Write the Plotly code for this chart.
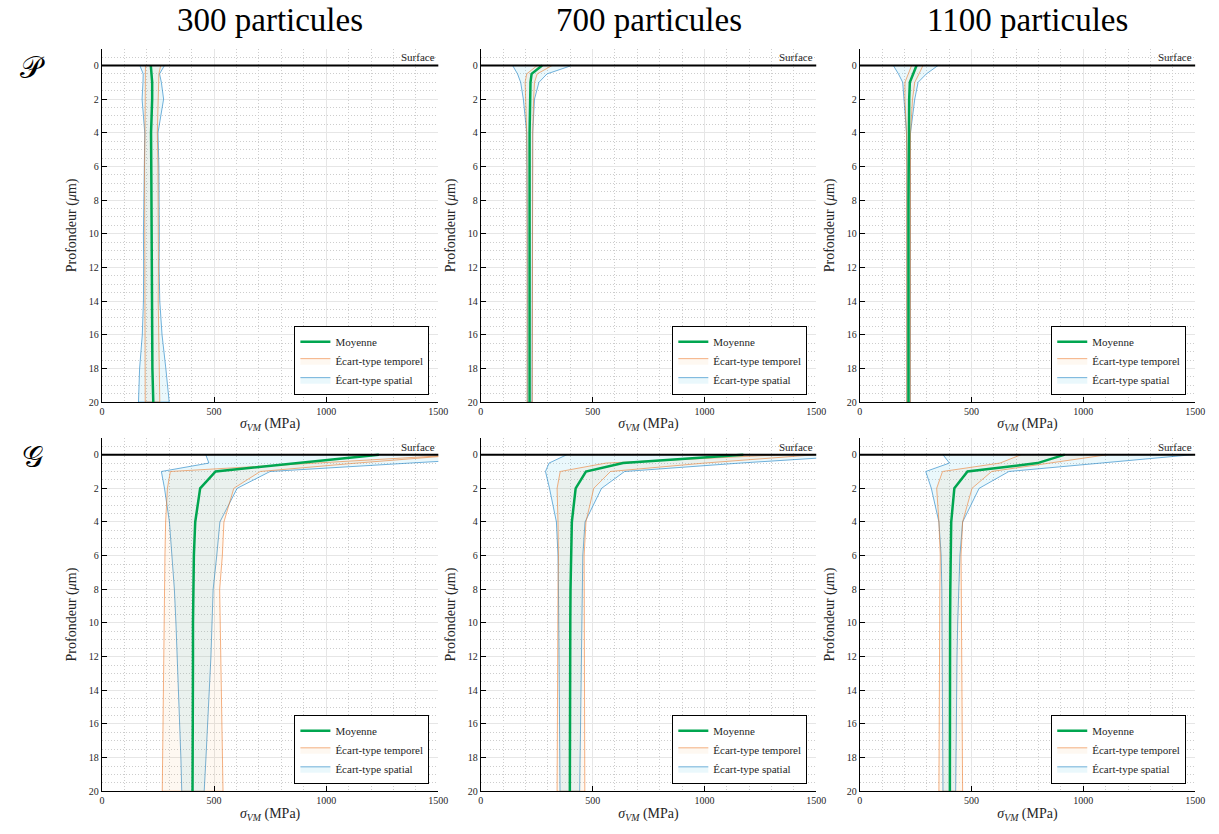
import plotly.graph_objects as go

# ---------------- data ----------------
depth = [0, 0.5, 1, 2, 4, 6, 8, 10, 12, 14, 16, 18, 20]

col_titles = ["300 particules", "700 particules", "1100 particules"]
row_labels = ["𝒫", "𝒢"]
x_ticks = [0, 500, 1000, 1500]
y_ticks = [0, 2, 4, 6, 8, 10, 12, 14, 16, 18, 20]

# P - 300
P300_mean = [218, 222, 224, 224, 219, 220, 221, 222, 222, 221, 222, 225, 229]
P300_tlo = [194, 194, 194, 194, 192, 190, 190, 190, 190, 190, 190, 191, 193]
P300_thi = [262, 254, 252, 250, 247, 250, 251, 252, 252, 251, 252, 255, 258]
P300_slo = [169, 184, 183, 179, 191, 188, 186, 185, 186, 185, 180, 168, 163]
P300_shi = [279, 257, 265, 275, 250, 254, 256, 256, 255, 258, 268, 285, 300]
# P - 700
P700_mean = [274, 227, 222, 220, 218, 218, 218, 218, 218, 218, 218, 218, 218]
P700_tlo = [252, 205, 198, 201, 205, 206, 207, 207, 207, 207, 207, 207, 207]
P700_thi = [319, 252, 240, 236, 232, 231, 230, 230, 230, 230, 230, 230, 230]
P700_slo = [142, 164, 178, 190, 205, 207, 208, 208, 208, 208, 208, 208, 208]
P700_shi = [407, 296, 260, 240, 232, 230, 229, 229, 229, 229, 229, 229, 229]
# P - 1100
P1100_mean = [254, 239, 224, 221, 219, 218, 218, 218, 218, 218, 218, 218, 218]
P1100_tlo = [232, 217, 202, 202, 209, 210, 210, 210, 210, 210, 210, 210, 210]
P1100_thi = [283, 265, 246, 236, 227, 226, 226, 226, 226, 226, 226, 226, 226]
P1100_slo = [150, 173, 192, 198, 209, 211, 211, 211, 211, 211, 211, 211, 211]
P1100_shi = [350, 298, 261, 246, 227, 226, 226, 226, 226, 226, 226, 226, 226]
# G - 300
G300_mean = [1235, 865, 507, 438, 416, 410, 407, 406, 406, 405, 405, 405, 404]
G300_tlo = [1600, 938, 305, 292, 284, 281, 279, 277, 275, 273, 271, 270, 269]
G300_thi = [1610, 1137, 706, 588, 544, 537, 525, 527, 530, 533, 536, 538, 540]
G300_slo = [463, 477, 265, 279, 301, 313, 323, 330, 336, 340, 346, 352, 356]
G300_shi = [2030, 1372, 750, 603, 526, 512, 496, 491, 486, 480, 472, 464, 456]
# G - 700
G700_mean = [1174, 636, 470, 424, 407, 403, 401, 400, 399, 399, 398, 398, 398]
G700_tlo = [1350, 560, 355, 341, 345, 347, 345, 344, 343, 342, 342, 341, 341]
G700_thi = [1500, 1000, 580, 505, 470, 462, 462, 463, 463, 464, 464, 465, 465]
G700_slo = [385, 305, 289, 307, 338, 345, 347, 349, 350, 351, 352, 353, 354]
G700_shi = [1750, 1159, 643, 540, 466, 456, 454, 452, 450, 448, 446, 444, 442]
# G - 1100
G1100_mean = [917, 795, 482, 423, 409, 406, 405, 404, 404, 404, 403, 403, 403]
G1100_tlo = [722, 627, 370, 344, 354, 360, 358, 357, 356, 355, 355, 354, 354]
G1100_thi = [1109, 850, 590, 502, 460, 453, 455, 456, 457, 458, 459, 459, 460]
G1100_slo = [372, 401, 295, 320, 354, 364, 367, 368, 369, 370, 370, 371, 372]
G1100_shi = [1490, 1065, 667, 534, 460, 448, 442, 438, 435, 433, 431, 430, 429]

panels = [
    (P300_mean, P300_tlo, P300_thi, P300_slo, P300_shi),
    (P700_mean, P700_tlo, P700_thi, P700_slo, P700_shi),
    (P1100_mean, P1100_tlo, P1100_thi, P1100_slo, P1100_shi),
    (G300_mean, G300_tlo, G300_thi, G300_slo, G300_shi),
    (G700_mean, G700_tlo, G700_thi, G700_slo, G700_shi),
    (G1100_mean, G1100_tlo, G1100_thi, G1100_slo, G1100_shi),
]

# ---------------- layout ----------------
W, H = 1219, 834
FONT = "'Liberation Serif', 'DejaVu Serif', serif"
TXT = "#262626"
col_px = [(100, 440), (483, 822), (866, 1205)]
row_px = [(49, 405), (441, 797)]

fig = go.Figure()
layout = dict(
    width=W, height=H, autosize=False, margin=dict(l=0, r=0, t=0, b=0),
    paper_bgcolor="white", plot_bgcolor="white",
    font=dict(family=FONT, color=TXT),
    annotations=[], shapes=[],
)

for i, (mean, tlo, thi, slo, shi) in enumerate(panels):
    r, c = divmod(i, 3)
    s = "" if i == 0 else str(i + 1)
    xa, ya = "x" + s, "y" + s
    lg = "legend" if i == 0 else "legend" + str(i + 1)
    x0, x1 = col_px[c]
    y0, y1 = row_px[r]

    fig.add_trace(go.Scatter(
        x=slo + shi[::-1], y=depth + depth[::-1], mode="lines", fill="toself",
        fillcolor="rgba(90,200,235,0.13)", line=dict(color="rgba(0,114,189,0.55)", width=1),
        name="Écart-type spatial", xaxis=xa, yaxis=ya, legend=lg, legendrank=3,
        hoverinfo="skip"))
    fig.add_trace(go.Scatter(
        x=tlo + thi[::-1], y=depth + depth[::-1], mode="lines", fill="toself",
        fillcolor="rgba(235,150,60,0.07)", line=dict(color="rgba(237,125,49,0.6)", width=1),
        name="Écart-type temporel", xaxis=xa, yaxis=ya, legend=lg, legendrank=2,
        hoverinfo="skip"))
    fig.add_trace(go.Scatter(
        x=mean, y=depth, mode="lines", line=dict(color="rgb(0,166,80)", width=2.5),
        name="Moyenne", xaxis=xa, yaxis=ya, legend=lg, legendrank=1))

    layout["xaxis" + s] = dict(
        domain=[x0 / W, x1 / W], anchor=ya, range=[0, 1500], tickvals=x_ticks,
        ticks="inside", ticklen=5, tickcolor="black", showline=True, linecolor="black",
        linewidth=1.2, zeroline=False, showgrid=True, gridcolor="#e6e6e6", gridwidth=1,
        minor=dict(dtick=100, showgrid=True, gridcolor="#cdcdcd", griddash="1px,2px", gridwidth=1),
        tickfont=dict(size=10, family=FONT, color=TXT),
        title=dict(text="<i>σ</i><sub><i>VM</i></sub> (MPa)", font=dict(size=14, family=FONT, color=TXT), standoff=2),
    )
    layout["yaxis" + s] = dict(
        domain=[1 - y1 / H, 1 - y0 / H], anchor=xa, range=[20, -1], tickvals=y_ticks,
        ticks="inside", ticklen=5, tickcolor="black", showline=True, linecolor="black",
        linewidth=1.2, zeroline=False, showgrid=True, gridcolor="#e6e6e6", gridwidth=1,
        minor=dict(dtick=0.5, showgrid=True, gridcolor="#cdcdcd", griddash="1px,2px", gridwidth=1),
        tickfont=dict(size=10, family=FONT, color=TXT),
        title=dict(text="Profondeur (<i>μ</i>m)", font=dict(size=14, family=FONT, color=TXT), standoff=8),
    )
    layout[lg] = dict(
        x=(x1 - 9) / W, y=1 - (y1 - 7) / H, xanchor="right", yanchor="bottom",
        bgcolor="white", bordercolor="black", borderwidth=1,
        font=dict(size=11, family=FONT, color=TXT), tracegroupgap=0,
        itemwidth=30,
    )
    layout["shapes"].append(dict(
        type="line", xref=xa + " domain", yref=ya, x0=0, x1=1, y0=0, y1=0,
        line=dict(color="black", width=2), layer="above"))
    layout["annotations"].append(dict(
        text="Surface", xref=xa + " domain", yref=ya, x=1, y=0, xanchor="right",
        yanchor="bottom", showarrow=False, font=dict(size=11, family=FONT, color=TXT),
        xshift=-1, yshift=0))

for c, t in enumerate(col_titles):
    x0, x1 = col_px[c]
    layout["annotations"].append(dict(
        text=t, xref="paper", yref="paper", x=(x0 + x1) / 2 / W, y=1 - 20 / H,
        xanchor="center", yanchor="middle", showarrow=False,
        font=dict(size=33, family=FONT, color="black")))

for r, t in enumerate(row_labels):
    layout["annotations"].append(dict(
        text=t, xref="paper", yref="paper", x=30 / W, y=1 - (row_px[r][0] + 19) / H,
        xanchor="center", yanchor="middle", showarrow=False,
        font=dict(size=30, family="'DejaVu Serif', 'DejaVu Sans', serif", color="black")))

fig.update_layout(**layout)

post = (
    "document.documentElement.style.overflow='hidden';"
    "document.body.style.margin='0';"
    "document.body.style.padding='0';"
    "document.body.style.overflow='hidden';"
    "var g=document.getElementById('{plot_id}');"
    "var p=g.parentElement;"
    "p.style.position='fixed';p.style.left='0';p.style.top='0';"
    "p.style.width='1219px';p.style.height='834px';p.style.overflow='hidden';"
    "p.style.margin='0';p.style.padding='0';"
)
fig.write_html("out.html", config={"displayModeBar": False}, post_script=post)
